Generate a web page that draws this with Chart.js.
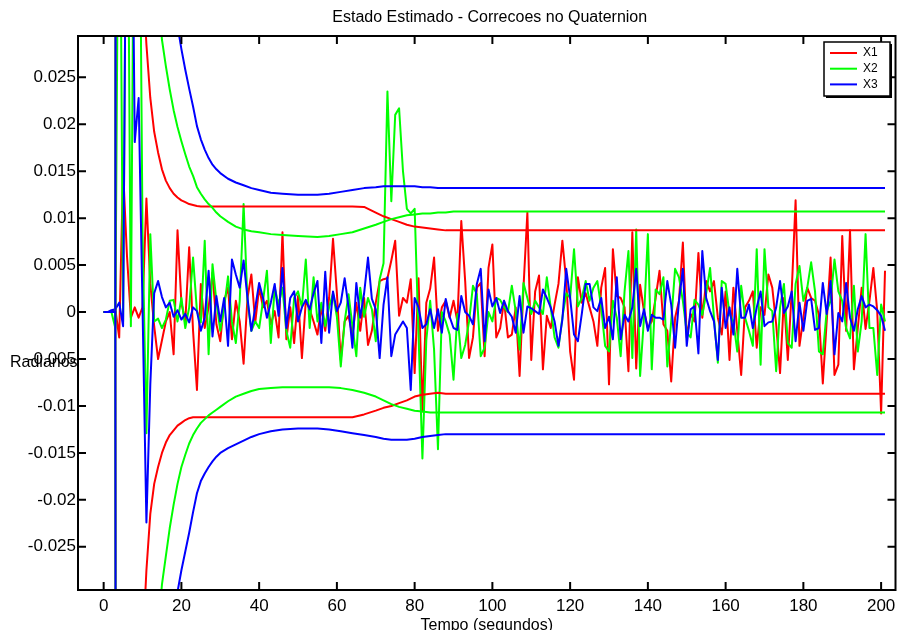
<!DOCTYPE html>
<html><head><meta charset="utf-8">
<script src="https://cdn.jsdelivr.net/npm/chart.js@4/dist/chart.umd.min.js"></script>
<style>html,body{margin:0;padding:0;background:#fff}canvas{display:block}</style>
</head><body>
<canvas id="c" width="898" height="630"></canvas>
<script>
const time = [0,1,2,3,4,5,6,7,8,9,10,11,12,13,14,15,16,17,18,19,20,21,22,23,24,25,26,27,28,29,30,31,32,33,34,35,36,37,38,39,40,41,42,43,44,45,46,47,48,49,50,51,52,53,54,55,56,57,58,59,60,61,62,63,64,65,66,67,68,69,70,71,72,73,74,75,76,77,78,79,80,81,82,83,84,85,86,87,88,89,90,91,92,93,94,95,96,97,98,99,100,101,102,103,104,105,106,107,108,109,110,111,112,113,114,115,116,117,118,119,120,121,122,123,124,125,126,127,128,129,130,131,132,133,134,135,136,137,138,139,140,141,142,143,144,145,146,147,148,149,150,151,152,153,154,155,156,157,158,159,160,161,162,163,164,165,166,167,168,169,170,171,172,173,174,175,176,177,178,179,180,181,182,183,184,185,186,187,188,189,190,191,192,193,194,195,196,197,198,199,200,201];

const x1 = [
0,0,0,0.0003,-0.0027,0.0151,0.006,-0.0006,0.0005,-0.0006,
0.0005,0.0121,0.003,-0.0015,-0.005,-0.003,-0.001,0.0,-0.0045,0.0087,
0.001,-0.001,0.0069,-0.002,-0.0083,0.003,-0.0017,0.0005,0.0042,-0.0013,
-0.0031,0.0012,0.0026,-0.0029,0.0012,-0.001,-0.0055,0.0015,0.004,-0.0011,
0.0026,0.0005,0.0012,-0.0013,0.0001,-0.0027,0.0085,-0.0029,0.0005,-0.0033,
0.0017,-0.0049,0.0012,0.0003,-0.001,-0.0024,0.0005,-0.002,0.0015,0.0078,
0.002,-0.0051,-0.001,-0.0004,-0.0025,0.001,-0.002,0.0015,-0.0035,-0.002,
0.001,0.0033,0.0035,0.0036,0.0055,0.0076,-0.0004,0.0015,0.001,0.0035,
-0.0065,0.0036,-0.0106,0.001,0.0025,0.0058,-0.002,0.0005,0.0012,-0.0006,
0.0012,-0.001,0.0097,0.0033,-0.0049,-0.0027,0.0026,0.0031,-0.0047,0.0047,
0.0072,-0.0027,-0.0017,0.0012,-0.0027,-0.0024,0.0005,-0.0068,0.0026,0.0106,
-0.0051,0.0022,0.0039,-0.0061,-0.0004,-0.0017,0.0008,0.003,0.0076,0.0033,
-0.0042,-0.0072,0.0037,0.001,0.002,0.0005,-0.001,-0.0036,0.0026,0.0047,
-0.0077,0.0067,0.0017,0.0015,0.0005,-0.0063,0.0085,-0.006,0.0029,0.0001,
-0.0017,-0.001,0.0015,0.0044,-0.0013,-0.002,-0.0074,-0.0006,0.0012,0.0074,
-0.0027,-0.0002,-0.001,0.0063,-0.0006,0.0033,0.0022,0.0033,-0.0006,-0.0024,
0.0022,-0.0051,0.0026,-0.002,-0.0067,0.0005,0.0012,0.0022,-0.0038,0.0005,
-0.0003,0.004,0.0026,-0.0013,-0.0065,0.0015,-0.0051,0.0022,0.0119,-0.0036,
-0.0006,0.0026,0.0015,0.0012,-0.0003,-0.0076,-0.001,0.0058,-0.0067,-0.0056,
0.0081,-0.002,0.0087,-0.0061,-0.0017,0.0026,-0.0018,0.0012,0.0047,0.0001,
-0.0108,0.0044];

const x2 = [
0,0,0,-0.0017,0.06,-0.001,0.06,-0.0015,0.06,0.06,
0.0083,-0.0129,0.0083,-0.001,-0.0007,-0.0017,-0.0008,0.0012,0.0013,-0.001,
0.0015,-0.0017,0.0005,0.0058,0.0001,-0.0011,0.0076,-0.0045,0.0051,0.0012,
-0.002,0.0005,0.0038,-0.001,-0.0033,0.0012,0.0115,0.0012,-0.002,-0.001,
-0.0017,0.0012,0.0044,-0.0033,0.0026,0.0008,0.0026,-0.002,-0.0038,0.0015,
0.0022,0.0005,0.0056,-0.0017,0.0037,-0.001,0.001,-0.0015,0.0005,0.002,
-0.0005,-0.0058,-0.001,0.0019,-0.0015,-0.0047,0.0026,-0.0005,0.0015,0.0003,
-0.0031,0.0035,0.0052,0.0235,0.0118,0.021,0.0217,0.015,0.011,0.0105,
0.011,-0.0024,-0.0156,-0.003,0.0012,-0.004,-0.0146,0.0,-0.001,-0.0024,
-0.0072,-0.0002,-0.0049,-0.0035,-0.001,0.0028,0.0019,-0.0047,-0.0038,0.0,
-0.001,0.0015,0.0013,0.0005,0.0,0.0028,0.0001,-0.004,0.0031,0.0015,
-0.0002,0.0012,0.0005,-0.0002,0.0037,0.0005,-0.0027,-0.0038,-0.0006,0.002,
0.0015,0.0067,0.0006,0.0015,0.0033,0.0012,0.0026,0.0033,0.0005,-0.0036,
-0.0042,0.0012,-0.0006,-0.0047,0.0022,0.0065,-0.0049,0.0088,-0.0068,-0.0006,
0.0083,-0.0061,0.0024,0.0019,0.0037,-0.0058,-0.001,0.0046,0.0037,0.0012,
-0.0022,-0.0027,0.0013,0.0008,-0.0003,0.002,0.0047,-0.0006,-0.0054,0.0033,
0.003,-0.0002,-0.001,-0.0042,0.0028,-0.0006,-0.002,-0.0036,0.0067,-0.0056,
0.0067,0.0005,0.0001,-0.0063,0.0005,0.003,-0.0033,-0.0038,0.003,0.0049,
0.0012,0.0026,0.0053,0.0022,-0.0042,-0.0045,0.0001,0.0012,0.0056,0.0022,
0.0012,-0.0017,-0.0028,0.0028,-0.0042,-0.001,0.0083,-0.0017,-0.0017,-0.0067,
0.0008,-0.001];

const x3 = [
0,0,0.0002,0.0003,0.001,-0.0015,0.06,0.06,0.0181,0.0228,
0.0005,-0.0224,-0.0077,0.002,0.0033,0.0016,0.0005,0.001,-0.0005,0.0002,
-0.0008,-0.0002,-0.0011,0.0005,0.0001,-0.002,-0.0006,0.0044,-0.0026,0.0017,
-0.001,0.0015,-0.0036,0.0056,0.004,0.0026,0.0055,0.0015,-0.002,0.0005,
0.0031,0.0015,-0.0006,0.001,0.003,-0.0004,0.0047,-0.0017,0.0015,0.0022,
-0.001,0.0005,0.0013,0.0003,0.002,0.0033,-0.0033,0.0043,-0.0022,0.0022,
0.0001,0.001,0.0036,0.0005,-0.0038,0.0031,-0.0006,0.002,0.0058,0.0014,
0.0003,-0.0049,0.0008,0.0037,-0.0047,-0.0024,-0.0017,-0.001,-0.0017,-0.0083,
0.0015,0.0005,-0.0017,-0.0013,0.0003,-0.0017,0.0003,-0.0022,0.0014,-0.0005,
-0.0017,-0.0019,0.0017,0.0,-0.0004,-0.0013,0.003,0.0046,-0.0031,0.0024,
0.0006,0.0015,-0.0001,0.0012,0.0001,-0.0005,-0.0022,0.0017,-0.0022,0.0006,
0.0004,0.0001,-0.0002,0.0024,0.0015,0.0005,-0.001,-0.0036,-0.0008,0.0046,
0.0015,-0.0024,-0.0031,-0.0002,0.003,0.003,0.0005,0.0001,0.0015,-0.0017,
-0.0005,-0.0029,0.0037,-0.0029,-0.0003,-0.001,0.0005,0.0046,-0.0015,0.0003,
-0.002,-0.0003,-0.0006,-0.0006,-0.0008,0.0033,0.0008,-0.0038,0.0012,0.0046,
-0.0036,0.0003,0.0006,-0.0044,0.0065,0.0015,0.0001,-0.001,-0.0051,0.0026,
-0.0017,0.0005,-0.0024,0.0046,-0.0006,-0.0006,0.0008,-0.0017,0.0005,0.0022,
-0.0015,-0.0011,-0.001,0.0005,0.0033,-0.0001,0.0006,0.0022,-0.0031,0.001,
-0.002,0.0012,0.0014,-0.0019,-0.0017,0.0031,-0.0002,0.0033,-0.0045,-0.0001,
-0.001,0.0031,-0.0006,-0.002,0.0003,0.0017,0.0005,0.0008,0.0006,0.0002,
-0.0004,-0.002];

const envTime = [0,1,2,3,4,6,8,9,10,11,12,13,14,15,16,17,18,19,20,21,22,23,24,25,26,27,28,29,30,32,34,36,38,40,43,46,50,55,58,61,64,67,70,72,74,76,78,80,82,84,86,88,90,201];

const x1Upper = [0,0,0,0,0.5,0.2,0.08,0.05,0.036,0.0285,0.0228,0.0192,0.017,0.0152,0.014,0.0132,0.0126,0.0122,0.0119,0.0117,0.0115,0.0114,0.0113,
0.01125,0.01125,0.01125,0.01125,0.01125,0.01125,0.01125,0.01125,0.01125,0.01125,0.01125,0.01125,0.01125,0.01125,0.01125,0.01125,0.01125,0.01125,
0.0112,0.0106,0.0102,0.0099,0.0096,0.0093,0.0091,0.009,0.0089,0.0088,0.0087,0.0087,0.0087];
const x1Lower = [0,0,0,0,-0.5,-0.2,-0.08,-0.05,-0.036,-0.0275,-0.0215,-0.0183,-0.0165,-0.015,-0.0139,-0.0131,-0.0126,-0.0121,-0.0118,-0.0115,-0.0113,-0.0112,-0.0112,
-0.0112,-0.0112,-0.0112,-0.0112,-0.0112,-0.0112,-0.0112,-0.0112,-0.0112,-0.0112,-0.0112,-0.0112,-0.0112,-0.0112,-0.0112,-0.0112,-0.0112,-0.0112,
-0.0109,-0.0105,-0.0102,-0.01,-0.0097,-0.0094,-0.009,-0.0088,-0.0087,-0.0086,-0.0087,-0.0087,-0.0087];
const x2Upper = [0,0,0,0,0.5,0.3,0.15,0.1,0.08,0.065,0.052,0.042,0.034,0.029,0.0262,0.0237,0.0215,0.0197,0.0182,0.0168,0.0155,0.0145,0.0133,
0.0126,0.012,0.0115,0.0111,0.0106,0.0102,0.0096,0.0091,0.0088,0.0086,0.0085,0.0083,0.0082,0.0081,0.008,0.0081,0.0083,0.0085,
0.0089,0.0093,0.0096,0.0099,0.0101,0.0103,0.0104,0.0105,0.0105,0.0106,0.0106,0.0107,0.0107];
const x2Lower = [0,0,0,0,-0.5,-0.3,-0.15,-0.1,-0.08,-0.065,-0.052,-0.042,-0.034,-0.029,-0.026,-0.023,-0.0205,-0.0183,-0.0165,-0.0152,-0.014,-0.0131,-0.0124,
-0.0118,-0.0114,-0.011,-0.0107,-0.0104,-0.0101,-0.0095,-0.009,-0.0087,-0.0084,-0.0082,-0.0081,-0.008,-0.008,-0.008,-0.008,-0.0081,-0.0083,
-0.0086,-0.009,-0.0094,-0.0098,-0.0101,-0.0103,-0.0105,-0.0106,-0.0107,-0.0107,-0.0107,-0.0107,-0.0107];
const x3Upper = [0,0,0,0,0.5,0.35,0.2,0.15,0.12,0.1,0.085,0.072,0.062,0.053,0.046,0.04,0.035,0.0305,0.028,0.0258,0.0238,0.0219,0.0198,
0.0184,0.0173,0.0164,0.0157,0.0152,0.0148,0.0142,0.0138,0.0135,0.0132,0.013,0.0127,0.0126,0.0125,0.0125,0.0126,0.0128,0.013,
0.0132,0.0133,0.0134,0.0134,0.0134,0.0134,0.0134,0.0133,0.0133,0.0132,0.0132,0.0132,0.0132];
const x3Lower = [0,0,0,0,-0.5,-0.35,-0.2,-0.15,-0.12,-0.1,-0.085,-0.072,-0.062,-0.053,-0.046,-0.04,-0.034,-0.0298,-0.0275,-0.0255,-0.0235,-0.0213,-0.0193,
-0.018,-0.0172,-0.0165,-0.0159,-0.0154,-0.015,-0.0145,-0.0141,-0.0137,-0.0133,-0.013,-0.0127,-0.0125,-0.0124,-0.0124,-0.0125,-0.0127,-0.0129,
-0.0131,-0.0133,-0.0135,-0.0136,-0.0136,-0.0136,-0.0135,-0.0133,-0.0132,-0.0131,-0.013,-0.013,-0.013];

const xTicks = [0,20,40,60,80,100,120,140,160,180,200];
const yTicks = [-0.025,-0.02,-0.015,-0.01,-0.005,0,0.005,0.01,0.015,0.02,0.025];
const yTickLabels = ['-0.025','-0.02','-0.015','-0.01','-0.005','0','0.005','0.01','0.015','0.02','0.025'];
const seriesNames = ['X1','X2','X3'];
const seriesColors = ['#ff0000','#00ff00','#0000ff'];

const FONT = "'Liberation Sans', Arial, Helvetica, sans-serif";

function envData(vals){ return envTime.map((t,i)=>({x:t,y:vals[i]})); }

const datasets = [
  {label:'X1', data:x1, borderColor:seriesColors[0], order:6},
  {label:'X2', data:x2, borderColor:seriesColors[1], order:5},
  {label:'X3', data:x3, borderColor:seriesColors[2], order:4},
  {label:'X1+', data:envData(x1Upper), borderColor:seriesColors[0], order:3},
  {label:'X1-', data:envData(x1Lower), borderColor:seriesColors[0], order:3},
  {label:'X2+', data:envData(x2Upper), borderColor:seriesColors[1], order:2},
  {label:'X2-', data:envData(x2Lower), borderColor:seriesColors[1], order:2},
  {label:'X3+', data:envData(x3Upper), borderColor:seriesColors[2], order:1},
  {label:'X3-', data:envData(x3Lower), borderColor:seriesColors[2], order:1}
].map(d=>Object.assign({borderWidth:2, pointRadius:0, tension:0, fill:false, clip:0, borderJoinStyle:'round'}, d));

const frame = {
  id:'frame',
  afterDraw(chart){
    const {ctx, chartArea:a, scales:{x,y}} = chart;
    ctx.save();
    ctx.strokeStyle = '#000';
    ctx.lineWidth = 2;
    ctx.strokeRect(a.left, a.top, a.right-a.left, a.bottom-a.top);
    const L = 8;
    ctx.beginPath();
    x.ticks.forEach(t=>{
      const p = x.getPixelForValue(t.value);
      ctx.moveTo(p,a.bottom); ctx.lineTo(p,a.bottom-L);
      ctx.moveTo(p,a.top); ctx.lineTo(p,a.top+L);
    });
    y.ticks.forEach(t=>{
      const p = y.getPixelForValue(t.value);
      ctx.moveTo(a.left,p); ctx.lineTo(a.left+L,p);
      ctx.moveTo(a.right,p); ctx.lineTo(a.right-L,p);
    });
    ctx.stroke();

    ctx.fillStyle = '#000';
    ctx.font = '16px ' + FONT;
    ctx.textAlign = 'center';
    ctx.textBaseline = 'middle';
    ctx.fillText('Estado Estimado - Correcoes no Quaternion', (a.left+a.right)/2 + 3, 18);
    ctx.textBaseline = 'alphabetic';
    ctx.fillText('Tempo (segundos)', (a.left+a.right)/2, 630);
    ctx.textAlign = 'left';
    ctx.textBaseline = 'middle';
    ctx.fillText('Radianos', 10, 363);

    // legend
    const lx = 824, ly = 42, lw = 66, lh = 54;
    ctx.fillStyle = '#000';
    ctx.fillRect(lx+2, ly+2, lw, lh);
    ctx.fillStyle = '#fff';
    ctx.fillRect(lx, ly, lw, lh);
    ctx.lineWidth = 1.5;
    ctx.strokeStyle = '#000';
    ctx.strokeRect(lx, ly, lw, lh);
    ctx.font = '12px ' + FONT;
    ctx.textAlign = 'left';
    ctx.textBaseline = 'middle';
    for (let i=0;i<3;i++){
      const yy = ly + 11 + i*15.7;
      ctx.strokeStyle = seriesColors[i];
      ctx.lineWidth = 2;
      ctx.beginPath(); ctx.moveTo(lx+6, yy); ctx.lineTo(lx+33, yy); ctx.stroke();
      ctx.fillStyle = '#000';
      ctx.fillText(seriesNames[i], lx+39, yy);
    }
    ctx.restore();
  }
};

new Chart(document.getElementById('c'), {
  type:'line',
  data:{labels:time, datasets},
  options:{
    responsive:false, animation:false, events:[],
    layout:{padding:{left:8, right:2.5, top:36, bottom:0}},
    plugins:{legend:{display:false}, tooltip:{enabled:false}, title:{display:false}},
    scales:{
      x:{type:'linear', min:-6.6, max:203.7,
         afterBuildTicks:s=>{s.ticks = xTicks.map(v=>({value:v}));},
         afterFit:s=>{s.height = 40; s.paddingLeft = 0; s.paddingRight = 0;},
         grid:{display:false, drawTicks:false}, border:{display:false},
         ticks:{color:'#000', font:{family:FONT, size:17}, padding:6, maxRotation:0, autoSkip:false,
                callback:v=>String(v)}},
      y:{type:'linear', min:-0.0296, max:0.0294,
         afterBuildTicks:s=>{s.ticks = yTicks.map(v=>({value:v}));},
         afterFit:s=>{s.width = 70; s.paddingTop = 0; s.paddingBottom = 0;},
         grid:{display:false, drawTicks:false}, border:{display:false},
         ticks:{color:'#000', font:{family:FONT, size:17}, padding:2, autoSkip:false,
                callback:(v,i)=>yTickLabels[i]}}
    }
  },
  plugins:[frame]
});
</script>
</body></html>
